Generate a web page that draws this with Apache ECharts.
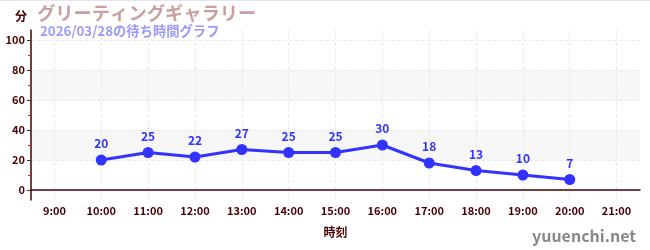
<!DOCTYPE html>
<html><head><meta charset="utf-8">
<script src="https://cdn.jsdelivr.net/npm/echarts@6/dist/echarts.min.js"></script>
<style>
html,body{margin:0;padding:0;background:#fff;}
#top{position:absolute;left:0;top:0;width:650px;height:1px;background:#e4e4f8;}
#c{width:650px;height:250px;}
</style></head>
<body><div id="c"></div><div id="top"></div>
<script>
const categories = ['9:00','10:00','11:00','12:00','13:00','14:00','15:00','16:00','17:00','18:00','19:00','20:00','21:00'];
const waitTimes = [null,20,25,22,27,25,25,30,18,13,10,7,null];
const yTicks = [0,20,40,60,80,100];
const yMinorTicks = [10,30,50,70,90];
const titleText = 'グリーティングギャラリー';
const subText = '2026/03/28の待ち時間グラフ';

const font = '"Noto Sans CJK JP","Noto Sans",sans-serif';
const axisColor = '#4a0000';
const chart = echarts.init(document.getElementById('c'), null, {renderer:'canvas'});
chart.setOption({
  animation:false,
  textStyle:{fontFamily:font},
  title:[{
    text:titleText, left:37, top:4, padding:0,
    textStyle:{color:'#c9a0a0', fontSize:18.3, fontWeight:'bold', fontFamily:font}
  },{
    text:subText, left:40, top:24, padding:0,
    textStyle:{color:'#9a9aff', fontSize:13.3, fontWeight:'bold', fontFamily:font}
  }],
  grid:{left:31, right:10, top:30, bottom:50, containLabel:false},
  xAxis:{
    type:'category', data:categories, boundaryGap:true,
    name:'時刻', nameLocation:'middle', nameGap:26,
    nameTextStyle:{color:axisColor, fontSize:12, fontWeight:'bold', fontFamily:font},
    axisLine:{lineStyle:{color:axisColor, width:1.5}},
    axisTick:{alignWithLabel:true, length:4, lineStyle:{color:'#333'}},
    axisLabel:{color:axisColor, fontSize:11, fontWeight:'bold', margin:5, interval:0},
    splitLine:{show:true, alignWithLabel:true, lineStyle:{color:'#eaeaea', type:'dashed'}}
  },
  yAxis:[{
    type:'value', min:-20/3, max:320/3, position:'left',
    name:'分', nameLocation:'end', nameGap:8,
    nameTextStyle:{color:axisColor, fontSize:12, fontWeight:'bold', align:'right', verticalAlign:'bottom', padding:[0,4,0,0], fontFamily:font},
    axisLine:{show:true, lineStyle:{color:axisColor, width:1.5}},
    axisTick:{show:true, length:4, customValues:yTicks, lineStyle:{color:'#333'}},
    axisLabel:{color:axisColor, fontSize:11, fontWeight:'bold', margin:6, customValues:yTicks},
    splitLine:{show:true, lineStyle:{color:'#eaeaea', type:'dashed'}},
    splitArea:{show:true, areaStyle:{color:['rgba(255,255,255,0)','#f7f7f7']}}
  },{
    type:'value', min:-20/3, max:320/3, position:'left',
    axisLine:{show:false},
    axisTick:{show:true, length:3, customValues:yMinorTicks, lineStyle:{color:'#dd2222'}},
    axisLabel:{show:false},
    splitLine:{show:false}
  }],
  graphic:[{
    type:'text', right:14, bottom:6,
    style:{text:'yuuenchi.net', fill:'#888', fontSize:16, fontWeight:'bold', fontFamily:font}
  }],
  series:[{
    type:'line', data:waitTimes, yAxisIndex:0,
    symbol:'circle', symbolSize:11,
    lineStyle:{color:'#3333ff', width:3},
    itemStyle:{color:'#3333ff'},
    label:{show:true, position:'top', distance:5, color:'#3333ff', fontSize:12, fontWeight:'bold'}
  }]
});
</script></body></html>
